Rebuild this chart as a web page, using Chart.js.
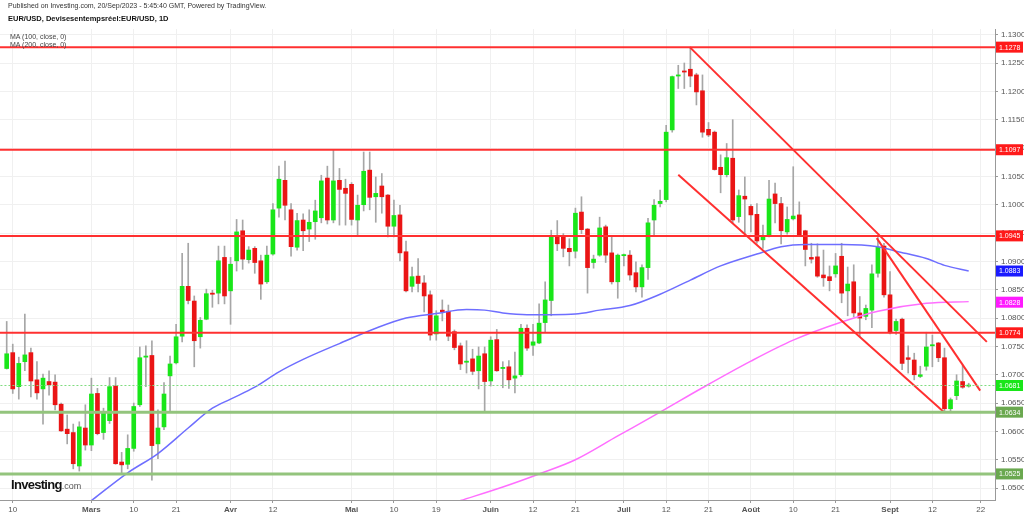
<!DOCTYPE html>
<html>
<head>
<meta charset="utf-8">
<script src="https://cdn.jsdelivr.net/npm/chart.js@4.4.0/dist/chart.umd.min.js"></script>
<style>
  html, body { margin: 0; padding: 0; background: #fff; }
  #wrap { position: relative; width: 1024px; height: 518px; overflow: hidden; font-family: Arial, "Liberation Sans", sans-serif; }
  #chart { position: absolute; left: 0; top: 0; }
  .txt { position: absolute; white-space: nowrap; z-index: 2; }
</style>
</head>
<body>
<div id="wrap">
  <canvas id="chart" width="1024" height="518"></canvas>
  <div class="txt" style="left:8px;top:2px;font-size:7px;color:#333;">Published on Investing.com, 20/Sep/2023 - 5:45:40 GMT, Powered by TradingView.</div>
  <div class="txt" style="left:8px;top:14px;font-size:7.5px;font-weight:bold;color:#111;">EUR/USD, Devisesentempsréel:EUR/USD, 1D</div>
  <div class="txt" style="left:10px;top:33px;font-size:7px;color:#444;">MA (100, close, 0)</div>
  <div class="txt" style="left:10px;top:41px;font-size:7px;color:#444;">MA (200, close, 0)</div>
  <div class="txt" style="left:11px;top:475px;"><span style="font-size:13px;font-weight:bold;letter-spacing:-0.7px;color:#111;">Investing</span><span style="font-size:9px;color:#555;">.com</span></div>
</div>
<script>
// EUR/USD daily candles, 9 Feb 2023 -> 20 Sep 2023 (trading days only)
const firstDay = '2023-02-09';

const opens = [
  1.0711, 1.0739, 1.0679, 1.0723, 1.0739, 1.0691, 1.0675, 1.0688, 1.0687, 1.0648,
  1.0604, 1.0598, 1.0539, 1.0606, 1.0576, 1.0667, 1.0598, 1.0619, 1.0680, 1.0546,
  1.0542, 1.0570, 1.0647, 1.0731, 1.0734, 1.0578, 1.0608, 1.0698, 1.0721, 1.0768,
  1.0856, 1.0830, 1.0767, 1.0798, 1.0844, 1.0844, 1.0907, 1.0848, 1.0901, 1.0954,
  1.0903, 1.0923, 1.0901, 1.0864, 1.0913, 1.0994, 1.1043, 1.0991, 1.0925, 1.0973,
  1.0957, 1.0970, 1.0977, 1.1047, 1.0973, 1.1043, 1.1029, 1.1036, 1.0973, 1.1000,
  1.1061, 1.1014, 1.1033, 1.1017, 1.0962, 1.0982, 1.0917, 1.0856, 1.0874, 1.0862,
  1.0841, 1.0772, 1.0814, 1.0812, 1.0776, 1.0751, 1.0722, 1.0728, 1.0707, 1.0737,
  1.0689, 1.0762, 1.0711, 1.0714, 1.0694, 1.0700, 1.0782, 1.0752, 1.0756, 1.0792,
  1.0831, 1.0945, 1.0943, 1.0923, 1.0918, 1.0987, 1.0957, 1.0898, 1.0911, 1.0961,
  1.0915, 1.0864, 1.0910, 1.0911, 1.0880, 1.0855, 1.0889, 1.0973, 1.1002, 1.1009,
  1.1132, 1.1227, 1.1236, 1.1239, 1.1229, 1.1201, 1.1133, 1.1128, 1.1066, 1.1053,
  1.1082, 1.0979, 1.1015, 1.0997, 1.0983, 1.0938, 1.0946, 1.1019, 1.1002, 1.0952,
  1.0975, 1.0982, 1.0954, 1.0907, 1.0908, 1.0876, 1.0873, 1.0878, 1.0909, 1.0848,
  1.0864, 1.0809, 1.0803, 1.0814, 1.0879, 1.0927, 1.0841, 1.0778, 1.0798, 1.0730,
  1.0726, 1.0697, 1.0715, 1.0751, 1.0756, 1.0730, 1.0640, 1.0663, 1.0688, 1.0680
];
const highs = [
  1.0794, 1.0754, 1.0731, 1.0807, 1.0747, 1.0723, 1.0701, 1.0707, 1.0700, 1.0650,
  1.0629, 1.0613, 1.0617, 1.0647, 1.0694, 1.0676, 1.0641, 1.0695, 1.0695, 1.0563,
  1.0594, 1.0650, 1.0749, 1.0751, 1.0760, 1.0638, 1.0686, 1.0733, 1.0789, 1.0914,
  1.0932, 1.0839, 1.0801, 1.0851, 1.0849, 1.0927, 1.0927, 1.0907, 1.0974, 1.0973,
  1.0926, 1.0926, 1.0911, 1.0927, 1.1002, 1.1068, 1.1077, 1.1002, 1.0985, 1.0984,
  1.0991, 1.1008, 1.1052, 1.1068, 1.1096, 1.1064, 1.1045, 1.1039, 1.1017, 1.1093,
  1.1093, 1.1049, 1.1055, 1.1018, 1.1008, 1.0999, 1.0936, 1.0890, 1.0905, 1.0875,
  1.0848, 1.0813, 1.0832, 1.0823, 1.0779, 1.0756, 1.0760, 1.0745, 1.0749, 1.0749,
  1.0767, 1.0780, 1.0723, 1.0725, 1.0740, 1.0789, 1.0788, 1.0789, 1.0825, 1.0864,
  1.0955, 1.0972, 1.0949, 1.0940, 1.0994, 1.1014, 1.0958, 1.0911, 1.0978, 1.0964,
  1.0943, 1.0913, 1.0913, 1.0919, 1.0899, 1.0894, 1.0976, 1.1009, 1.1026, 1.1140,
  1.1227, 1.1246, 1.1250, 1.1278, 1.1232, 1.1229, 1.1145, 1.1130, 1.1088, 1.1108,
  1.1150, 1.1026, 1.1049, 1.1000, 1.1002, 1.0964, 1.1043, 1.1038, 1.1013, 1.0996,
  1.1067, 1.1005, 1.0955, 1.0932, 1.0931, 1.0920, 1.0892, 1.0914, 1.0932, 1.0890,
  1.0894, 1.0838, 1.0823, 1.0894, 1.0942, 1.0932, 1.0882, 1.0798, 1.0800, 1.0751,
  1.0738, 1.0715, 1.0775, 1.0770, 1.0757, 1.0747, 1.0659, 1.0700, 1.0717, 1.0685
];
const lows = [
  1.0710, 1.0667, 1.0657, 1.0707, 1.0661, 1.0657, 1.0613, 1.0664, 1.0638, 1.0600,
  1.0578, 1.0534, 1.0530, 1.0567, 1.0566, 1.0594, 1.0586, 1.0614, 1.0542, 1.0526,
  1.0534, 1.0565, 1.0644, 1.0679, 1.0514, 1.0552, 1.0603, 1.0633, 1.0719, 1.0758,
  1.0825, 1.0714, 1.0747, 1.0797, 1.0819, 1.0825, 1.0825, 1.0789, 1.0883, 1.0886,
  1.0897, 1.0879, 1.0833, 1.0861, 1.0911, 1.0978, 1.0973, 1.0909, 1.0920, 1.0919,
  1.0935, 1.0939, 1.0968, 1.0966, 1.0968, 1.0964, 1.0964, 1.0964, 1.0944, 1.0989,
  1.0991, 1.0969, 1.0985, 1.0943, 1.0943, 1.0901, 1.0846, 1.0846, 1.0846, 1.0811,
  1.0761, 1.0761, 1.0795, 1.0760, 1.0744, 1.0709, 1.0703, 1.0700, 1.0675, 1.0636,
  1.0680, 1.0706, 1.0677, 1.0676, 1.0668, 1.0697, 1.0743, 1.0734, 1.0755, 1.0776,
  1.0804, 1.0919, 1.0908, 1.0892, 1.0906, 1.0949, 1.0844, 1.0888, 1.0909, 1.0898,
  1.0860, 1.0835, 1.0892, 1.0867, 1.0846, 1.0837, 1.0868, 1.0947, 1.0996, 1.1005,
  1.1128, 1.1205, 1.1205, 1.1208, 1.1176, 1.1119, 1.1120, 1.1061, 1.1021, 1.1049,
  1.0967, 1.0969, 1.0947, 1.0952, 1.0932, 1.0923, 1.0943, 1.0968, 1.0931, 1.0948,
  1.0973, 1.0944, 1.0892, 1.0897, 1.0872, 1.0856, 1.0848, 1.0872, 1.0827, 1.0804,
  1.0802, 1.0767, 1.0797, 1.0783, 1.0872, 1.0837, 1.0772, 1.0771, 1.0709, 1.0703,
  1.0691, 1.0695, 1.0708, 1.0714, 1.0723, 1.0633, 1.0634, 1.0656, 1.0676, 1.0678
];
const closes = [
  1.0737, 1.0675, 1.0720, 1.0735, 1.0689, 1.0668, 1.0694, 1.0682, 1.0647, 1.0601,
  1.0596, 1.0543, 1.0608, 1.0576, 1.0666, 1.0596, 1.0632, 1.0679, 1.0543, 1.0541,
  1.0570, 1.0644, 1.0730, 1.0733, 1.0575, 1.0606, 1.0666, 1.0719, 1.0767, 1.0856,
  1.0831, 1.0760, 1.0796, 1.0843, 1.0842, 1.0901, 1.0839, 1.0895, 1.0952, 1.0904,
  1.0920, 1.0898, 1.0860, 1.0911, 1.0991, 1.1045, 1.0999, 1.0926, 1.0972, 1.0954,
  1.0969, 1.0989, 1.1042, 1.0973, 1.1042, 1.1027, 1.1020, 1.0974, 1.0999, 1.1059,
  1.1013, 1.1020, 1.1014, 1.0962, 1.0981, 1.0915, 1.0848, 1.0873, 1.0861, 1.0839,
  1.0770, 1.0804, 1.0811, 1.0768, 1.0748, 1.0719, 1.0724, 1.0706, 1.0733, 1.0688,
  1.0761, 1.0707, 1.0713, 1.0691, 1.0698, 1.0782, 1.0747, 1.0758, 1.0791, 1.0832,
  1.0945, 1.0931, 1.0923, 1.0917, 1.0985, 1.0956, 1.0889, 1.0904, 1.0959, 1.0911,
  1.0864, 1.0911, 1.0912, 1.0876, 1.0855, 1.0889, 1.0968, 1.0999, 1.1006, 1.1128,
  1.1226, 1.1229, 1.1234, 1.1227, 1.1199, 1.1128, 1.1123, 1.1062, 1.1053, 1.1083,
  1.0973, 1.1016, 1.1010, 1.0982, 1.0936, 1.0945, 1.1010, 1.1002, 1.0954, 1.0974,
  1.0980, 1.0946, 1.0921, 1.0904, 1.0874, 1.0871, 1.0866, 1.0892, 1.0844, 1.0860,
  1.0809, 1.0800, 1.0817, 1.0878, 1.0925, 1.0841, 1.0774, 1.0794, 1.0720, 1.0727,
  1.0700, 1.0700, 1.0749, 1.0753, 1.0730, 1.0640, 1.0656, 1.0689, 1.0678, 1.0681
];

// moving averages (bar index -> value)
const ma100Days = [14, 20, 25, 30, 34, 37, 41, 45, 49, 55, 61, 66, 71, 76, 79, 82, 86, 90, 94, 98, 103, 108, 113, 118, 124, 128, 132, 138, 144, 147, 152, 155, 159];
const ma100 = [1.0478, 1.0527, 1.0561, 1.0606, 1.0641, 1.0657, 1.0678, 1.0705, 1.0727, 1.0755, 1.0782, 1.0800, 1.0808, 1.0815, 1.0814, 1.0809, 1.0806, 1.0806, 1.0807, 1.0814, 1.0822, 1.0842, 1.0867, 1.0892, 1.0913, 1.0926, 1.0930, 1.0930, 1.0926, 1.0918, 1.0905, 1.0893, 1.0883];
const ma200Days = [75, 82, 88, 94, 101, 108, 115, 123, 130, 138, 144, 152, 159];
const ma200 = [1.0478, 1.0502, 1.0525, 1.0550, 1.0592, 1.0634, 1.0677, 1.0724, 1.0761, 1.0793, 1.0812, 1.0826, 1.0829];

// drawn levels and trend lines
const redLevels = [1.1278, 1.1097, 1.0945, 1.0774];
const greenLevels = [1.0634, 1.0525];
const lastPrice = 1.0681;
const trendA = [[112.9, 1.1278], [162.0, 1.0758]];
const trendB = [[111.0, 1.1053], [154.8, 1.0635]];
const trendC = [[143.8, 1.0941], [160.9, 1.0672]];

// right-hand price tags
const tagValues = [1.1278, 1.1097, 1.0945, 1.0883, 1.0828, 1.0774, 1.0681, 1.0634, 1.0525];
const tagColors = ['#ff1a1a', '#ff1a1a', '#ff1a1a', '#1a1aff', '#ff1aff', '#ff1a1a', '#19e619', '#6aa84f', '#6aa84f'];

// axis ticks
const yTicks = [1.0500, 1.0550, 1.0600, 1.0650, 1.0700, 1.0750, 1.0800, 1.0850, 1.0900, 1.0950, 1.1000, 1.1050, 1.1100, 1.1150, 1.1200, 1.1250, 1.1300];
const tickDates = ['2023-02-10', '2023-03-01', '2023-03-10', '2023-03-21', '2023-04-03', '2023-04-12', '2023-05-01', '2023-05-10', '2023-05-19', '2023-06-01', '2023-06-12', '2023-06-21', '2023-07-03', '2023-07-12', '2023-07-21', '2023-08-01', '2023-08-10', '2023-08-21', '2023-09-01', '2023-09-12', '2023-09-22'];
const tickLabels = ['10', 'Mars', '10', '21', 'Avr', '12', 'Mai', '10', '19', 'Juin', '12', '21', 'Juil', '12', '21', 'Août', '10', '21', 'Sept', '12', '22'];
const monthLabels = ['Mars', 'Avr', 'Mai', 'Juin', 'Juil', 'Août', 'Sept'];

// trading days (Mon-Fri) so dates can be turned into bar indices
const dayIndex = {};
let d = new Date(firstDay + 'T00:00:00Z');
let n = 0;
while (n < 200) {
    const wd = d.getUTCDay();
    if (wd !== 0 && wd !== 6) {
        dayIndex[d.toISOString().slice(0, 10)] = n;
        n++;
    }
    d.setUTCDate(d.getUTCDate() + 1);
}
const tickIdx = tickDates.map(s => dayIndex[s]);

const wickData = lows.map((l, i) => ({x: i, y: [l, highs[i]]}));
const bodyData = opens.map((o, i) => ({x: i, y: [o, closes[i]]}));
const bodyColors = opens.map((o, i) => closes[i] >= o ? '#19e619' : '#ea1515');

function hLine(value, color, width, dash) {
    return {
        type: 'line',
        data: [{x: -5, y: value}, {x: 170, y: value}],
        borderColor: color,
        borderWidth: width,
        borderDash: dash || [],
        pointRadius: 0,
        order: 0
    };
}

function segment(pts, color) {
    return {
        type: 'line',
        data: pts.map(p => ({x: p[0], y: p[1]})),
        borderColor: color,
        borderWidth: 2,
        pointRadius: 0,
        order: 0
    };
}

const priceTags = {
    id: 'priceTags',
    afterDraw(chart) {
        const ctx = chart.ctx;
        const right = chart.chartArea.right;
        const y = chart.scales.y;
        ctx.save();
        ctx.font = '7px Arial';
        ctx.textBaseline = 'middle';
        tagValues.forEach((v, i) => {
            const py = y.getPixelForValue(v);
            ctx.fillStyle = tagColors[i];
            ctx.fillRect(right + 1, py - 5.5, 27, 11);
            ctx.fillStyle = '#ffffff';
            ctx.fillText(v.toFixed(4), right + 4, py + 0.5);
        });
        ctx.restore();
    }
};

const datasets = [
    {
        type: 'bar',
        data: wickData,
        backgroundColor: '#a6a6a6',
        barThickness: 1,
        grouped: false,
        order: 3
    },
    {
        type: 'bar',
        data: bodyData,
        backgroundColor: bodyColors,
        barThickness: 4,
        minBarLength: 1,
        grouped: false,
        order: 2
    },
    hLine(lastPrice, '#7fdc7f', 1, [2, 2])
];
redLevels.forEach(v => datasets.push(hLine(v, '#ff3030', 2)));
greenLevels.forEach(v => datasets.push(hLine(v, '#93c47d', 3)));
datasets.push({
    type: 'line',
    data: ma100Days.map((x, i) => ({x: x, y: ma100[i]})),
    borderColor: '#6e6eff',
    borderWidth: 1.5,
    pointRadius: 0,
    cubicInterpolationMode: 'monotone',
    order: 1
});
datasets.push({
    type: 'line',
    data: ma200Days.map((x, i) => ({x: x, y: ma200[i]})),
    borderColor: '#ff6eff',
    borderWidth: 1.5,
    pointRadius: 0,
    cubicInterpolationMode: 'monotone',
    order: 1
});
datasets.push(segment(trendA, '#ff3030'));
datasets.push(segment(trendB, '#ff3030'));
datasets.push(segment(trendC, '#ff3030'));

new Chart(document.getElementById('chart').getContext('2d'), {
    data: {datasets: datasets},
    options: {
        responsive: false,
        animation: false,
        layout: {padding: {top: 29, left: 0, right: 0, bottom: 0}},
        plugins: {
            legend: {display: false},
            tooltip: {enabled: false}
        },
        scales: {
            x: {
                type: 'linear',
                offset: false,
                min: -1.107,
                max: 163.35,
                afterBuildTicks: s => { s.ticks = tickIdx.map(v => ({value: v})); },
                afterFit: s => { s.height = 18; },
                grid: {
                    offset: false,
                    color: '#f0f0f0',
                    tickColor: '#999',
                    tickLength: 3
                },
                border: {color: '#999', width: 1},
                ticks: {
                    autoSkip: false,
                    maxRotation: 0,
                    padding: 2,
                    color: '#555',
                    font: ctx => ({
                        family: 'Arial',
                        size: 8,
                        weight: ctx.tick && monthLabels.includes(tickLabels[ctx.index]) ? 'bold' : 'normal'
                    }),
                    callback: (v, i) => tickLabels[i]
                }
            },
            y: {
                type: 'linear',
                position: 'right',
                min: 1.0479,
                max: 1.1310,
                afterBuildTicks: s => { s.ticks = yTicks.map(v => ({value: v})); },
                afterFit: s => { s.width = 29; },
                grid: {
                    color: '#f0f0f0',
                    tickColor: '#999',
                    tickLength: 3
                },
                border: {color: '#999', width: 1},
                ticks: {
                    padding: 3,
                    color: '#555',
                    font: {family: 'Arial', size: 8},
                    callback: v => v.toFixed(4)
                }
            }
        }
    },
    plugins: [priceTags]
});
</script>
</body>
</html>
